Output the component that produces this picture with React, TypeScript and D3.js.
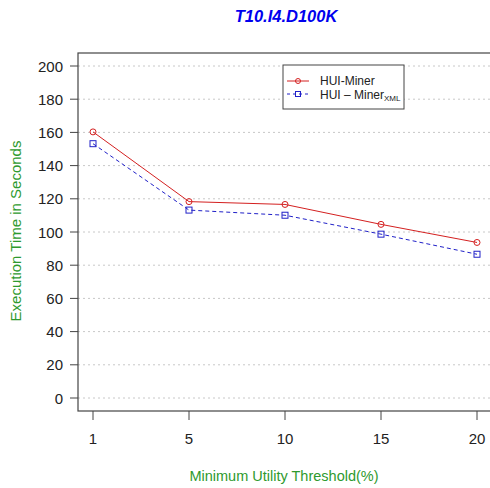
import * as d3 from "d3";

const thresholds = ["1", "5", "10", "15", "20"];
const huiMiner = [160.3, 118.3, 116.6, 104.6, 93.7];
const huiMinerXml = [153.2, 113.2, 110.1, 98.7, 86.6];
const yTicks = [0, 20, 40, 60, 80, 100, 120, 140, 160, 180, 200];

const width = 490;
const height = 488;
const box = { left: 78, right: 496, top: 53, bottom: 411 };
const font = "Liberation Sans, Arial, sans-serif";

export default function App() {
  const x = d3.scalePoint<string>(thresholds, [93, 477]);
  const y = d3.scaleLinear([0, 200], [398, 66]);
  const line = d3
    .line<number>()
    .x((_, i) => x(thresholds[i])!)
    .y((d) => y(d));

  return (
    <svg
      width={width}
      height={height}
      style={{ position: "absolute", left: 0, top: 0, background: "#fff" }}
      fontFamily={font}
    >
      <text x={286} y={22} textAnchor="middle" fontSize={16.5} fontWeight="bold" fontStyle="italic" fill="#0000ee">
        T10.I4.D100K
      </text>

      {/* grid */}
      <g stroke="#c8c8c8" strokeDasharray="2,3" strokeWidth={1}>
        {yTicks.map((t) => (
          <line key={t} x1={box.left} x2={width} y1={y(t)} y2={y(t)} />
        ))}
      </g>

      <rect x={box.left} y={box.top} width={box.right - box.left} height={box.bottom - box.top} fill="none" stroke="#444" strokeWidth={1.2} />

      {/* y axis */}
      <g fontSize={15} fill="#222">
        {yTicks.map((t) => (
          <g key={t}>
            <line x1={70} x2={box.left} y1={y(t)} y2={y(t)} stroke="#444" />
            <text x={63} y={y(t) + 5.5} textAnchor="end">{t}</text>
          </g>
        ))}
      </g>

      {/* x axis */}
      <g fontSize={15} fill="#222">
        {thresholds.map((t) => (
          <g key={t}>
            <line x1={x(t)} x2={x(t)} y1={box.bottom} y2={box.bottom + 9} stroke="#444" />
            <text x={x(t)} y={444} textAnchor="middle">{t}</text>
          </g>
        ))}
      </g>

      <text x={284} y={481} textAnchor="middle" fontSize={14.5} fill="#2e9a2e">
        Minimum Utility Threshold(%)
      </text>
      <text transform="translate(21,231) rotate(-90)" textAnchor="middle" fontSize={15} fill="#2e9a2e">
        Execution Time in Seconds
      </text>

      {/* series */}
      <path d={line(huiMiner)!} fill="none" stroke="#d42020" strokeWidth={1} />
      <path d={line(huiMinerXml)!} fill="none" stroke="#2020c8" strokeWidth={1} strokeDasharray="4,3" />
      {huiMiner.map((v, i) => (
        <circle key={i} cx={x(thresholds[i])} cy={y(v)} r={3} fill="none" stroke="#d42020" />
      ))}
      {huiMinerXml.map((v, i) => (
        <rect key={i} x={x(thresholds[i])! - 3} y={y(v) - 3} width={6} height={6} fill="none" stroke="#2020c8" />
      ))}

      {/* legend */}
      <rect x={283} y={65} width={121} height={44} fill="#fff" stroke="#444" />
      <line x1={287} x2={309} y1={81} y2={81} stroke="#d42020" />
      <circle cx={298} cy={81} r={2.5} fill="none" stroke="#d42020" />
      <line x1={287} x2={309} y1={94} y2={94} stroke="#2020c8" strokeDasharray="3,3" />
      <rect x={295.5} y={91.5} width={5} height={5} fill="none" stroke="#2020c8" />
      <text x={320} y={85} fontSize={12} fill="#222">HUI-Miner</text>
      <text x={320} y={98.5} fontSize={12} fill="#222">
        HUI – Miner<tspan fontSize={8} dy={2}>XML</tspan>
      </text>
    </svg>
  );
}
